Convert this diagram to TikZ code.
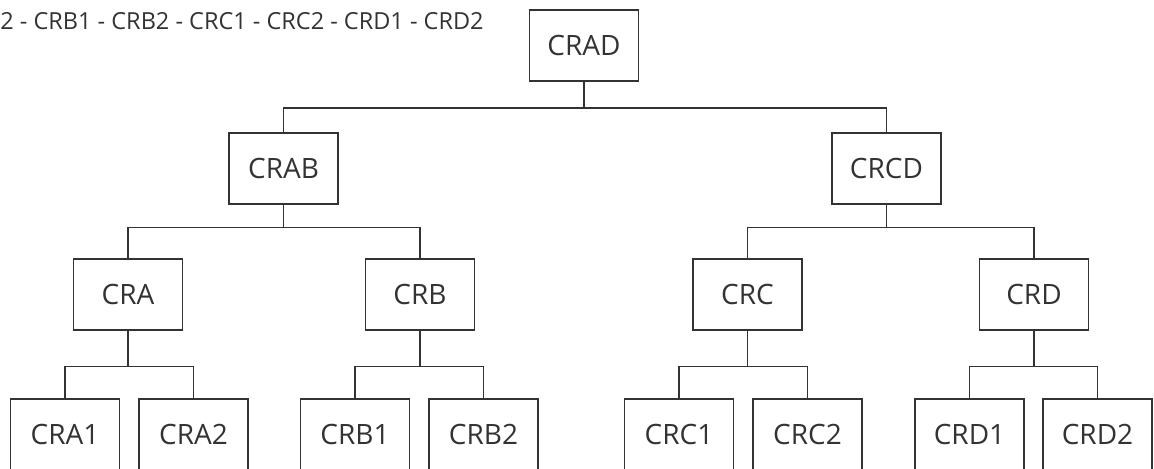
\documentclass[tikz,border=0pt]{standalone}
\usepackage{fontspec}
\setmainfont{Open Sans}
\begin{document}
\begin{tikzpicture}[x=0.5pt,y=-0.5pt,
  crbox/.style={draw=black!80, line width=0.7pt, minimum width=54.5pt, minimum height=35.5pt, inner sep=0pt, font=\fontsize{14}{16}\selectfont, text=black!80},
  link/.style={draw=black!80, line width=0.7pt}]
\useasboundingbox (0,0) rectangle (1154,468);
\clip (0,0) rectangle (1154,468);
\node[anchor=base west, inner sep=0pt, font=\fontsize{11.75}{14}\selectfont, text=black!80] (order) at (0,29) {2 - CRB1 - CRB2 - CRC1 - CRC2 - CRD1 - CRD2};
\node[crbox] (crad) at (584,45.5) {CRAD};
\node[crbox] (crab) at (283.5,168.5) {CRAB};
\node[crbox] (crcd) at (886.5,168.5) {CRCD};
\node[crbox] (cra) at (128,294.5) {CRA};
\node[crbox] (crb) at (420,294.5) {CRB};
\node[crbox] (crc) at (747.5,294.5) {CRC};
\node[crbox] (crd) at (1034,294.5) {CRD};
\node[crbox] (cra1) at (65,434.5) {CRA1};
\node[crbox] (cra2) at (193.5,434.5) {CRA2};
\node[crbox] (crb1) at (355,434.5) {CRB1};
\node[crbox] (crb2) at (483.5,434.5) {CRB2};
\node[crbox] (crc1) at (679,434.5) {CRC1};
\node[crbox] (crc2) at (807.5,434.5) {CRC2};
\node[crbox] (crd1) at (969.5,434.5) {CRD1};
\node[crbox] (crd2) at (1097.5,434.5) {CRD2};
\coordinate (jad) at (584,108);
\coordinate (jab) at (283.5,227.5);
\coordinate (jcd) at (886.5,227.5);
\coordinate (ja) at (128,366.5);
\coordinate (jb) at (420,366.5);
\coordinate (jc) at (747.5,366.5);
\coordinate (jd) at (1034,366.5);
\path[link] (crad) -- (jad);
\path[link] (crab) |- (jad) -| (crcd);
\path[link] (crab) -- (jab);
\path[link] (cra) |- (jab) -| (crb);
\path[link] (crcd) -- (jcd);
\path[link] (crc) |- (jcd) -| (crd);
\path[link] (cra) -- (ja);
\path[link] (cra1) |- (ja) -| (cra2);
\path[link] (crb) -- (jb);
\path[link] (crb1) |- (jb) -| (crb2);
\path[link] (crc) -- (jc);
\path[link] (crc1) |- (jc) -| (crc2);
\path[link] (crd) -- (jd);
\path[link] (crd1) |- (jd) -| (crd2);
\end{tikzpicture}
\end{document}
